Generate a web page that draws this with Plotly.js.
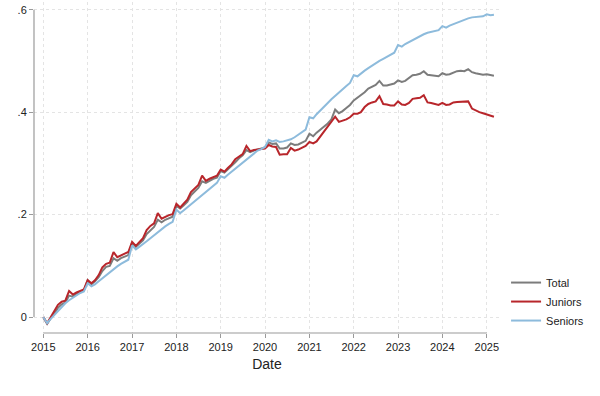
<!DOCTYPE html>
<html>
<head>
<meta charset="utf-8">
<script src="https://cdn.plot.ly/plotly-3.0.1.min.js"></script>
<style>html,body{margin:0;padding:0;background:#fff;}#chart{width:600px;height:396px;}</style>
</head>
<body>
<div id="chart"></div>
<script>
// Monthly series, Jan 2015 .. Mar 2025
const startYear = 2015;
const total = [
  0.000, -0.013, -0.003, 0.006, 0.018, 0.025, 0.028, 0.042, 0.040, 0.046, 0.049, 0.052,
  0.072, 0.064, 0.070, 0.078, 0.090, 0.098, 0.100, 0.115, 0.110, 0.115, 0.118, 0.121,
  0.145, 0.137, 0.143, 0.150, 0.162, 0.170, 0.176, 0.190, 0.185, 0.190, 0.193, 0.196,
  0.217, 0.212, 0.218, 0.225, 0.238, 0.245, 0.252, 0.265, 0.262, 0.266, 0.270, 0.272,
  0.285, 0.282, 0.288, 0.294, 0.302, 0.310, 0.316, 0.326, 0.322, 0.325, 0.327, 0.328,
  0.331, 0.341, 0.338, 0.339, 0.329, 0.329, 0.331, 0.339, 0.336, 0.337, 0.340, 0.344,
  0.358, 0.353, 0.360, 0.366, 0.372, 0.378, 0.386, 0.405, 0.398, 0.402, 0.408, 0.414,
  0.423, 0.428, 0.433, 0.439, 0.446, 0.450, 0.453, 0.461, 0.452, 0.452, 0.454, 0.456,
  0.462, 0.459, 0.461, 0.467, 0.472, 0.473, 0.475, 0.480, 0.473, 0.472, 0.471, 0.470,
  0.476, 0.473, 0.474, 0.477, 0.480, 0.481, 0.480, 0.484, 0.478, 0.476, 0.474, 0.473,
  0.474, 0.472, 0.471
];
const juniors = [
  0.000, -0.012, -0.001, 0.012, 0.024, 0.030, 0.032, 0.051, 0.044, 0.048, 0.051, 0.054,
  0.072, 0.066, 0.072, 0.082, 0.097, 0.104, 0.106, 0.127, 0.117, 0.121, 0.124, 0.127,
  0.147, 0.139, 0.146, 0.154, 0.170, 0.178, 0.183, 0.203, 0.192, 0.196, 0.199, 0.201,
  0.221, 0.214, 0.221, 0.229, 0.244, 0.252, 0.258, 0.276, 0.266, 0.270, 0.273, 0.276,
  0.288, 0.284, 0.291, 0.298, 0.308, 0.314, 0.318, 0.334, 0.324, 0.326, 0.327, 0.328,
  0.329, 0.336, 0.333, 0.332, 0.317, 0.318, 0.318, 0.330, 0.325, 0.327, 0.331, 0.334,
  0.342, 0.339, 0.343, 0.353, 0.362, 0.372, 0.380, 0.391, 0.381, 0.383, 0.386, 0.390,
  0.397, 0.397, 0.400, 0.410, 0.416, 0.419, 0.421, 0.431, 0.416, 0.415, 0.413, 0.413,
  0.421, 0.415, 0.414, 0.418, 0.426, 0.427, 0.428, 0.433, 0.419, 0.418, 0.416, 0.414,
  0.418, 0.414, 0.415, 0.419, 0.420, 0.420, 0.420, 0.421, 0.407, 0.403, 0.400, 0.398,
  0.396, 0.393, 0.391
];
const seniors = [
  0.000, -0.012, -0.004, 0.004, 0.012, 0.020, 0.027, 0.033, 0.038, 0.043, 0.047, 0.050,
  0.066, 0.060, 0.064, 0.070, 0.076, 0.082, 0.088, 0.094, 0.099, 0.104, 0.108, 0.112,
  0.140, 0.132, 0.137, 0.142, 0.148, 0.154, 0.160, 0.166, 0.172, 0.177, 0.182, 0.186,
  0.210, 0.203, 0.208, 0.214, 0.220, 0.226, 0.232, 0.238, 0.244, 0.250, 0.256, 0.262,
  0.275, 0.272, 0.278, 0.284, 0.290, 0.296, 0.302, 0.308, 0.314, 0.320, 0.325, 0.328,
  0.332, 0.346, 0.343, 0.345, 0.342, 0.343, 0.345, 0.347, 0.351, 0.356, 0.361, 0.366,
  0.390, 0.388, 0.396, 0.404, 0.411, 0.418, 0.425, 0.432, 0.439, 0.445, 0.451, 0.457,
  0.472, 0.470, 0.476, 0.481, 0.486, 0.491, 0.496, 0.500, 0.504, 0.508, 0.512, 0.516,
  0.531, 0.528, 0.533, 0.537, 0.541, 0.545, 0.549, 0.552, 0.555, 0.557, 0.559, 0.560,
  0.568, 0.565, 0.569, 0.572, 0.575, 0.578, 0.581, 0.583, 0.585, 0.586, 0.587, 0.587,
  0.591, 0.589, 0.590
];
const yTickVals = [0, 0.2, 0.4, 0.6];
const yTickText = ['0', '.2', '.4', '.6'];
const xTickYears = [2015, 2016, 2017, 2018, 2019, 2020, 2021, 2022, 2023, 2024, 2025];

// month category strings for the x axis
const dates = total.map((_, i) => {
  const y = startYear + Math.floor(i / 12);
  const m = (i % 12) + 1;
  return y + '-' + (m < 10 ? '0' + m : m) + '-01';
});
const xTickVals = xTickYears.map(y => y + '-01-01');
const xTickText = xTickYears.map(String);

const font = 'Liberation Sans, Arial, Helvetica, sans-serif';
const traces = [
  {x: dates, y: total, name: 'Total', type: 'scatter', mode: 'lines',
   line: {color: '#7c7c7c', width: 2}},
  {x: dates, y: juniors, name: 'Juniors', type: 'scatter', mode: 'lines',
   line: {color: '#b8262b', width: 2}},
  {x: dates, y: seniors, name: 'Seniors', type: 'scatter', mode: 'lines',
   line: {color: '#8dbbdc', width: 2}}
];
const layout = {
  width: 600, height: 396,
  margin: {l: 34, r: 100, t: 2, b: 63},
  paper_bgcolor: '#fff', plot_bgcolor: '#fff',
  font: {family: font, size: 11, color: '#222'},
  showlegend: true,
  legend: {x: 1.013, xanchor: 'left', y: 0.095, yanchor: 'middle',
           font: {family: font, size: 11, color: '#222'}, tracegroupgap: 0,
           bgcolor: 'rgba(0,0,0,0)'},
  xaxis: {
    type: 'date', range: ['2014-10-16', '2025-04-20'],
    tickvals: xTickVals, ticktext: xTickText,
    ticks: 'outside', ticklen: 4, tickcolor: '#9a9a9a', tickwidth: 1,
    showline: false, zeroline: false,
    showgrid: true, gridcolor: '#e4e4e4', griddash: 'dot', gridwidth: 1,
    tickfont: {family: font, size: 11, color: '#222'},
    title: {text: 'Date', font: {family: font, size: 14, color: '#222'}, standoff: 6}
  },
  yaxis: {
    range: [-0.031, 0.615],
    tickvals: yTickVals, ticktext: yTickText,
    ticks: 'outside', ticklen: 4, tickcolor: '#9a9a9a', tickwidth: 1,
    showline: false, zeroline: false,
    showgrid: true, gridcolor: '#e4e4e4', griddash: 'dot', gridwidth: 1,
    tickfont: {family: font, size: 11, color: '#222'}
  },
  shapes: [
    {type: 'line', xref: 'paper', x0: 0, x1: 0, yref: 'y', y0: 0, y1: 0.6,
     line: {color: '#9a9a9a', width: 1.2}},
    {type: 'line', yref: 'paper', y0: 0, y1: 0, xref: 'x', x0: xTickVals[0], x1: xTickVals[xTickVals.length - 1],
     line: {color: '#9a9a9a', width: 1.2}}
  ]
};
Plotly.newPlot('chart', traces, layout, {displayModeBar: false, staticPlot: true});
</script>
</body>
</html>
